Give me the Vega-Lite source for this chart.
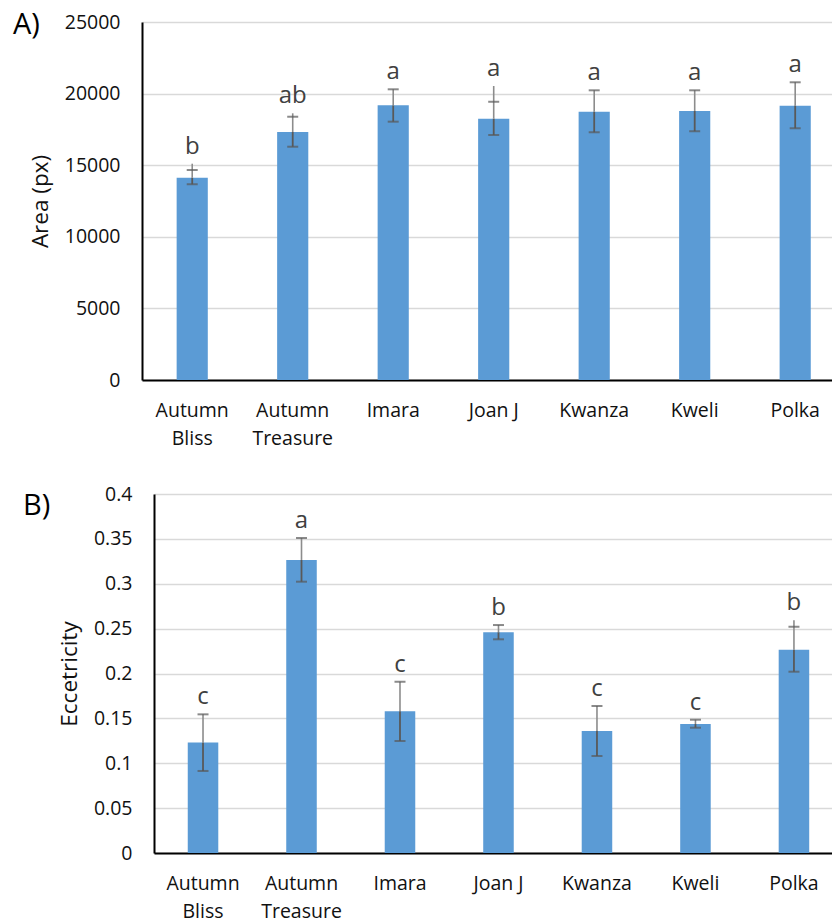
{
  "$schema": "https://vega.github.io/schema/vega-lite/v6.json",
  "padding": {"left": 13, "top": 11, "right": 0, "bottom": 0},
  "background": "white",
  "spacing": 36,
  "config": {
    "font": "Open Sans",
    "view": {"stroke": null},
    "axis": {
      "labelFont": "Open Sans", "titleFont": "Open Sans",
      "labelColor": "#111111", "titleColor": "#111111",
      "labelFontSize": 19.5, "titleFontSize": 22.5, "titleFontWeight": "normal",
      "ticks": false, "domainColor": "#000000", "domainWidth": 2,
      "gridColor": "#d9d9d9", "gridWidth": 1.3
    },
    "title": {"font": "Open Sans", "fontSize": 29, "fontWeight": "normal", "color": "#000000", "anchor": "start", "frame": "group", "baseline": "alphabetic"}
  },
  "vconcat": [
    {
      "width": 690,
      "height": 358,
      "title": {"text": "A)", "dx": -129, "dy": 28, "offset": 0},
      "data": {"values": [
        {"cultivar": "Autumn Bliss", "mean": 14130, "lo": 13670, "hi": 14665, "top": 15105, "letter": "b"},
        {"cultivar": "Autumn Treasure", "mean": 17320, "lo": 16290, "hi": 18385, "top": 18624, "letter": "ab"},
        {"cultivar": "Imara", "mean": 19180, "lo": 18040, "hi": 20300, "top": 20300, "letter": "a"},
        {"cultivar": "Joan J", "mean": 18250, "lo": 17110, "hi": 19430, "top": 20530, "letter": "a"},
        {"cultivar": "Kwanza", "mean": 18740, "lo": 17300, "hi": 20230, "top": 20230, "letter": "a"},
        {"cultivar": "Kweli", "mean": 18790, "lo": 17370, "hi": 20230, "top": 20230, "letter": "a"},
        {"cultivar": "Polka", "mean": 19160, "lo": 17580, "hi": 20790, "top": 20790, "letter": "a"}
      ]},
      "encoding": {
        "x": {
          "field": "cultivar", "type": "nominal", "sort": null,
          "scale": {"type": "band", "paddingInner": 0.69, "paddingOuter": 0.278, "align": 0.62},
          "axis": {"title": null, "labelAngle": 0, "labelPadding": 21, "labelLineHeight": 28, "grid": false,
                   "labelExpr": "indexof(datum.label, 'Autumn') == 0 ? split(datum.label, ' ') : datum.label"}
        }
      },
      "layer": [
        {
          "mark": {"type": "bar", "color": "#5b9bd5"},
          "encoding": {
            "y": {"field": "mean", "type": "quantitative",
                  "scale": {"domain": [0, 25000], "nice": false},
                  "axis": {"title": "Area (px)", "values": [0, 5000, 10000, 15000, 20000, 25000], "format": "d",
                           "labelPadding": 22, "titlePadding": 12}}
          }
        },
        {
          "mark": {"type": "rule", "color": "#595959", "strokeWidth": 1.8},
          "encoding": {"y": {"field": "lo", "type": "quantitative"}, "y2": {"field": "mean"}}
        },
        {
          "mark": {"type": "rule", "color": "#8c8c8c", "strokeWidth": 1.6},
          "encoding": {"y": {"field": "mean", "type": "quantitative"}, "y2": {"field": "top"}}
        },
        {
          "mark": {"type": "tick", "color": "#595959", "size": 11, "thickness": 2},
          "encoding": {"y": {"field": "hi", "type": "quantitative"}}
        },
        {
          "mark": {"type": "tick", "color": "#595959", "size": 11, "thickness": 2},
          "encoding": {"y": {"field": "lo", "type": "quantitative"}}
        },
        {
          "mark": {"type": "text", "fontSize": 24, "color": "#404040", "baseline": "alphabetic", "dy": -10},
          "encoding": {"y": {"field": "top", "type": "quantitative"}, "text": {"field": "letter"}}
        }
      ]
    },
    {
      "width": 690,
      "height": 359,
      "title": {"text": "B)", "dx": -119, "dy": 37, "offset": 0},
      "data": {"values": [
        {"cultivar": "Autumn Bliss", "mean": 0.123, "lo": 0.0914, "hi": 0.1545, "top": 0.1545, "letter": "c"},
        {"cultivar": "Autumn Treasure", "mean": 0.3265, "lo": 0.3023, "hi": 0.351, "top": 0.351, "letter": "a"},
        {"cultivar": "Imara", "mean": 0.158, "lo": 0.1248, "hi": 0.1909, "top": 0.1909, "letter": "c"},
        {"cultivar": "Joan J", "mean": 0.246, "lo": 0.2381, "hi": 0.254, "top": 0.254, "letter": "b"},
        {"cultivar": "Kwanza", "mean": 0.136, "lo": 0.1081, "hi": 0.1638, "top": 0.1638, "letter": "c"},
        {"cultivar": "Kweli", "mean": 0.1437, "lo": 0.1396, "hi": 0.1485, "top": 0.1485, "letter": "c"},
        {"cultivar": "Polka", "mean": 0.2265, "lo": 0.202, "hi": 0.2521, "top": 0.2593, "letter": "b"}
      ]},
      "encoding": {
        "x": {
          "field": "cultivar", "type": "nominal", "sort": null,
          "scale": {"type": "band", "range": [12, 690], "paddingInner": 0.69, "paddingOuter": 0.287, "align": 0.597},
          "axis": {"title": null, "labelAngle": 0, "labelPadding": 21, "labelLineHeight": 28, "grid": false,
                   "labelExpr": "indexof(datum.label, 'Autumn') == 0 ? split(datum.label, ' ') : datum.label"}
        }
      },
      "layer": [
        {
          "mark": {"type": "bar", "color": "#5b9bd5"},
          "encoding": {
            "y": {"field": "mean", "type": "quantitative",
                  "scale": {"domain": [0, 0.4], "nice": false},
                  "axis": {"title": "Eccetricity", "values": [0, 0.05, 0.1, 0.15, 0.2, 0.25, 0.3, 0.35, 0.4], "format": ".2~f",
                           "labelPadding": 22, "titlePadding": 12, "offset": -12}}
          }
        },
        {
          "mark": {"type": "rule", "color": "#595959", "strokeWidth": 1.8},
          "encoding": {"y": {"field": "lo", "type": "quantitative"}, "y2": {"field": "mean"}}
        },
        {
          "mark": {"type": "rule", "color": "#8c8c8c", "strokeWidth": 1.6},
          "encoding": {"y": {"field": "mean", "type": "quantitative"}, "y2": {"field": "top"}}
        },
        {
          "mark": {"type": "tick", "color": "#595959", "size": 11, "thickness": 2},
          "encoding": {"y": {"field": "hi", "type": "quantitative"}}
        },
        {
          "mark": {"type": "tick", "color": "#595959", "size": 11, "thickness": 2},
          "encoding": {"y": {"field": "lo", "type": "quantitative"}}
        },
        {
          "mark": {"type": "text", "fontSize": 24, "color": "#404040", "baseline": "alphabetic", "dy": -10},
          "encoding": {"y": {"field": "top", "type": "quantitative"}, "text": {"field": "letter"}}
        }
      ]
    }
  ]
}
